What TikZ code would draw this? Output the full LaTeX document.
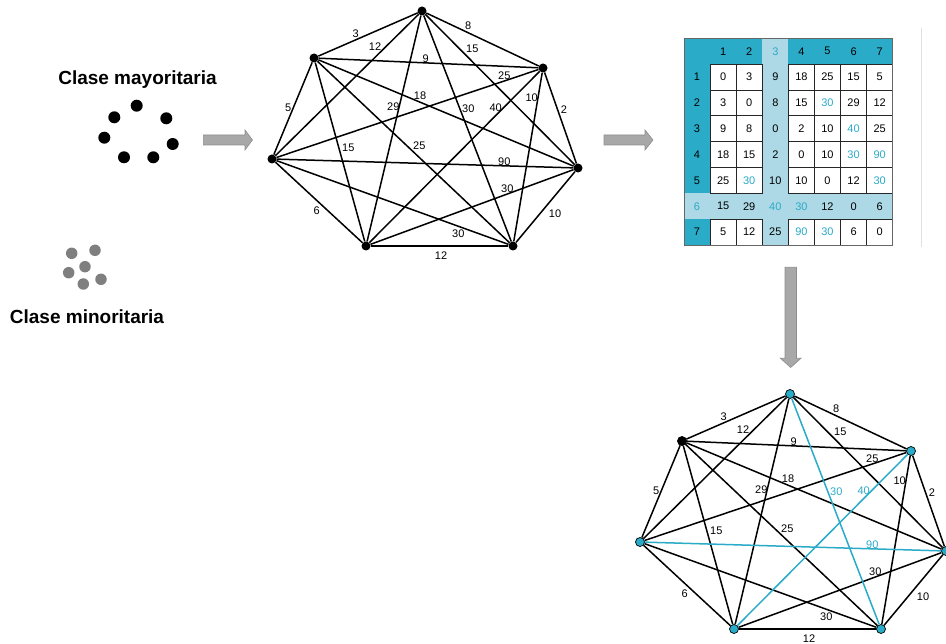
\documentclass[tikz,border=0pt]{standalone}
\usepackage{fontspec}
\setmainfont{Liberation Sans}
\definecolor{hl}{HTML}{2AABC8}
\definecolor{band}{HTML}{ADD8E6}
\definecolor{arrowfill}{HTML}{A8A8A8}
\definecolor{arrowedge}{HTML}{8E8E8E}
\definecolor{dotgray}{HTML}{7F7F7F}
\begin{document}
\begin{tikzpicture}[x=1pt,y=-1pt,
  vtx/.style={circle, fill=black, inner sep=0pt, minimum size=9pt},
  keyvtx/.style={circle, fill=hl, draw=black, line width=0.7pt, inner sep=0pt, minimum size=9pt},
  edge/.style={line width=1.5pt, black},
  keyedge/.style={line width=1.5pt, hl},
  wlabel/.style={font=\fontsize{11}{12}\selectfont, inner sep=0pt},
  title/.style={font=\bfseries\fontsize{19}{22}\selectfont, inner sep=0pt},
  bigarrow/.style={fill=arrowfill, draw=arrowedge, line width=0.6pt, line join=miter},
  bigdot/.style={circle, fill=black, inner sep=0pt, minimum size=12pt},
  smalldot/.style={circle, fill=dotgray, inner sep=0pt, minimum size=11.5pt},
  celltext/.style={font=\fontsize{11}{12}\selectfont, inner sep=0pt},
]
\useasboundingbox (0,0) rectangle (946,644);

% ---------- the two classes ----------
\node[title, anchor=base] (tmaj) at (137.5,84.7) {Clase mayoritaria};
\node[title, anchor=base] (tmin) at (87,323.3) {Clase minoritaria};

\foreach \x/\y [count=\k] in {136.7/105.7, 114.3/117.3, 166.3/118.3, 104.3/137.7,
                              172.7/144, 124/157.3, 153.3/157.3}
  \node[bigdot] (maj\k) at (\x,\y) {};
\foreach \x/\y [count=\k] in {71.7/253.3, 95/250.3, 85/266.7, 68.7/272.7,
                              101/279.3, 83.3/284}
  \node[smalldot] (min\k) at (\x,\y) {};

% ---------- block arrows ----------
\draw[bigarrow] (203.3,135) -- (245,135) -- (245,130) -- (252.5,140)
  -- (245,150) -- (245,145) -- (203.3,145) -- cycle;
\draw[bigarrow] (604,135) -- (645,135) -- (645,130) -- (653,140)
  -- (645,150) -- (645,145) -- (604,145) -- cycle;
\draw[bigarrow] (785,267.3) -- (796.5,267.3) -- (796.5,358.3) -- (801,358.3)
  -- (790.7,367.5) -- (780.4,358.3) -- (785,358.3) -- cycle;

% ---------- edge lists: i/j/weight/label x/label y ----------
\def\plainedges{1/2/3/355.7/33.3, 2/7/12/375/46.7, 2/3/8/468.3/26,
  2/4/15/472.3/48.3, 1/3/9/425.7/58.3, 3/7/25/504.3/76, 1/4/18/420/95.7,
  2/6/29/393.3/106.7, 3/5/10/531.7/97.3, 3/4/2/564/110, 1/7/5/288.3/107.7,
  1/6/15/348.3/147.7, 1/5/25/419.3/146, 4/6/30/507.3/188.3,
  4/5/10/555/213.3, 6/7/6/316.7/210.7, 5/7/30/458.3/234, 5/6/12/441/256}
\def\keyedges{2/5/30/468.3/109, 3/6/40/495.7/107.3, 4/7/90/504.3/161.7}
\def\vertexpos{314/58, 422/11, 543/68, 578/168, 513/246, 366/246, 272/159}

% ---------- complete graph ----------
\foreach \x/\y [count=\k] in \vertexpos
  \node[vtx] (a\k) at (\x,\y) {};
\foreach \i/\j/\w/\lx/\ly in \plainedges {
  \draw[edge] (a\i) -- (a\j);
  \node[wlabel] (la\i\j) at (\lx,\ly) {\w};
}
\foreach \i/\j/\w/\lx/\ly in \keyedges {
  \draw[edge] (a\i) -- (a\j);
  \node[wlabel] (la\i\j) at (\lx,\ly) {\w};
}

% ---------- distance matrix ----------
\def\mx{684}\def\my{38.3}\def\cw{26.09}\def\ch{25.84}
\draw[very thin, black!12] (921,28) -- (921,247);
\fill[hl] (\mx,\my) rectangle ({\mx+8*\cw},{\my+8*\ch});
\fill[band] ({\mx+3*\cw},\my) rectangle ({\mx+4*\cw},{\my+8*\ch});
\fill[band] (\mx,{\my+6*\ch}) rectangle ({\mx+8*\cw},{\my+7*\ch});
\foreach \r in {1,2,3,4,5,7}
  \foreach \c in {1,2,4,5,6,7}
    \draw[fill=white, draw=black!85, line width=0.8pt]
      ({\mx+\c*\cw},{\my+\r*\ch}) rectangle ({\mx+(\c+1)*\cw},{\my+(\r+1)*\ch});
\draw[line width=0.7pt, black!60] (\mx,\my) rectangle ({\mx+8*\cw},{\my+8*\ch});

% header row and column
\foreach \tc [count=\c] in {black,black,hl,black,black,black,black}
  \node[celltext, text=\tc] (h0\c) at ({\mx+(\c+0.5)*\cw},{\my+0.5*\ch}) {\c};
\foreach \tc [count=\r] in {black,black,black,black,black,hl,black}
  \node[celltext, text=\tc] (h\r0) at ({\mx+0.5*\cw},{\my+(\r+0.5)*\ch}) {\r};

% entries, one row at a time
\newcommand\matrow[2]{%
  \foreach \v/\tc [count=\c] in {#2}
    \node[celltext, text=\tc] (m#1\c) at ({\mx+(\c+0.5)*\cw},{\my+(#1+0.5)*\ch}) {\v};}
\matrow{1}{0/black,3/black,9/black,18/black,25/black,15/black,5/black}
\matrow{2}{3/black,0/black,8/black,15/black,30/hl,29/black,12/black}
\matrow{3}{9/black,8/black,0/black,2/black,10/black,40/hl,25/black}
\matrow{4}{18/black,15/black,2/black,0/black,10/black,30/hl,90/hl}
\matrow{5}{25/black,30/hl,10/black,10/black,0/black,12/black,30/hl}
\matrow{6}{15/black,29/black,40/hl,30/hl,12/black,0/black,6/black}
\matrow{7}{5/black,12/black,25/black,90/hl,30/hl,6/black,0/black}

% ---------- graph with the selected edges ----------
\begin{scope}[shift={(368,383)}]
  \foreach \x/\y [count=\k] in \vertexpos
    \node[keyvtx] (b\k) at (\x,\y) {};
  \node[vtx] (b1) at (314,58) {};
  \foreach \i/\j/\w/\lx/\ly in \plainedges {
    \draw[edge] (b\i) -- (b\j);
    \node[wlabel] (lb\i\j) at (\lx,\ly) {\w};
  }
  \foreach \i/\j/\w/\lx/\ly in \keyedges {
    \draw[keyedge] (b\i) -- (b\j);
    \node[wlabel, text=hl] (lb\i\j) at (\lx,\ly) {\w};
  }
\end{scope}
\end{tikzpicture}
\end{document}
